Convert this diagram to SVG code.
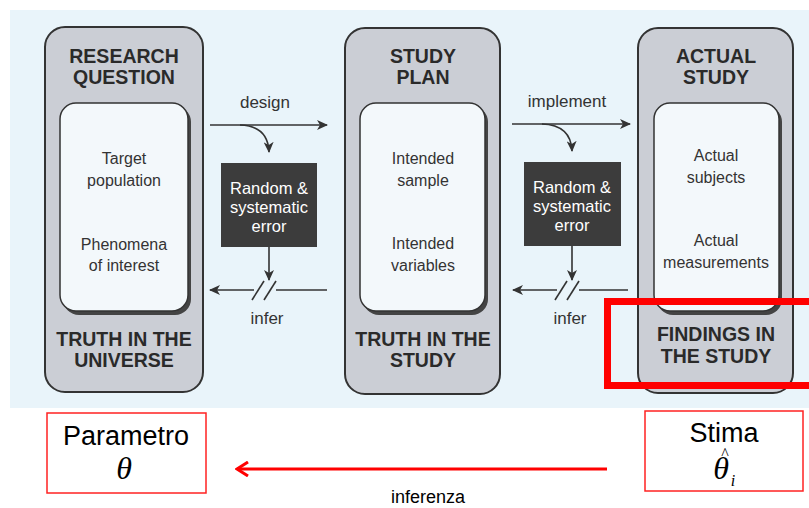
<svg xmlns="http://www.w3.org/2000/svg" width="809" height="508" viewBox="0 0 809 508">
<defs>
<marker id="ah" markerWidth="12" markerHeight="10" refX="10" refY="5" orient="auto" markerUnits="userSpaceOnUse">
<path d="M0,0 L11,5 L0,10 L3,5 Z" fill="#333"/>
</marker>
<marker id="rah" markerWidth="16" markerHeight="16" refX="14" refY="8" orient="auto" markerUnits="userSpaceOnUse">
<path d="M3,1 L14,8 L3,15" fill="none" stroke="#f00" stroke-width="3"/>
</marker>
<style>
.outer{fill:#cbced5;stroke:#333;stroke-width:2}
.shadow{fill:#444}
.inner{fill:#f3f8fb;stroke:#333;stroke-width:1.5}
.hd{font-family:"Liberation Sans",Arial,sans-serif;font-weight:bold;font-size:19.5px;fill:#2a2a2a;text-anchor:middle}
.it{font-family:"Liberation Sans",Arial,sans-serif;font-size:16px;fill:#333;text-anchor:middle}
.lb{font-family:"Liberation Sans",Arial,sans-serif;font-size:17px;fill:#333;text-anchor:middle}
.err{fill:#3c3c3c}
.et{font-family:"Liberation Sans",Arial,sans-serif;font-size:16.5px;fill:#fff;text-anchor:middle}
.ln{fill:none;stroke:#333;stroke-width:1.6}
.rb{fill:#fff;stroke:#f22;stroke-width:1.5}
.bt{font-family:"Liberation Sans",Arial,sans-serif;font-size:27px;fill:#000;text-anchor:middle}
.th{font-family:"Liberation Serif","Times New Roman",serif;font-style:italic;font-size:32px;fill:#000;text-anchor:middle}
</style>
</defs>
<rect x="0" y="0" width="809" height="508" fill="#fff"/>
<rect x="10" y="10" width="799" height="398" fill="#e9f4fa"/>

<g id="research-question">
<rect class="outer" x="45" y="27" width="158" height="365" rx="20"/>
<rect class="shadow" x="63" y="106" width="128" height="209" rx="16"/>
<rect class="inner" x="60" y="103" width="128" height="208" rx="16"/>
<text class="hd" x="124" y="63">RESEARCH</text>
<text class="hd" x="124" y="84">QUESTION</text>
<text class="it" x="124" y="164">Target</text>
<text class="it" x="124" y="186">population</text>
<text class="it" x="124" y="250">Phenomena</text>
<text class="it" x="124" y="271">of interest</text>
<text class="hd" x="124" y="346">TRUTH IN THE</text>
<text class="hd" x="124" y="367">UNIVERSE</text>
</g>

<g id="study-plan">
<rect class="outer" x="345" y="28" width="155" height="366" rx="20"/>
<rect class="shadow" x="363" y="106" width="125" height="209" rx="16"/>
<rect class="inner" x="360" y="103" width="125" height="208" rx="16"/>
<text class="hd" x="423" y="63">STUDY</text>
<text class="hd" x="423" y="84">PLAN</text>
<text class="it" x="423" y="164">Intended</text>
<text class="it" x="423" y="186">sample</text>
<text class="it" x="423" y="249">Intended</text>
<text class="it" x="423" y="271">variables</text>
<text class="hd" x="423" y="346">TRUTH IN THE</text>
<text class="hd" x="423" y="367">STUDY</text>
</g>

<g id="actual-study">
<rect class="outer" x="638" y="28" width="155" height="365" rx="20"/>
<rect class="shadow" x="657" y="106" width="125" height="209" rx="16"/>
<rect class="inner" x="654" y="103" width="125" height="208" rx="16"/>
<text class="hd" x="716" y="63">ACTUAL</text>
<text class="hd" x="716" y="84">STUDY</text>
<text class="it" x="716" y="161">Actual</text>
<text class="it" x="716" y="183">subjects</text>
<text class="it" x="716" y="246">Actual</text>
<text class="it" x="716" y="268">measurements</text>
<text class="hd" x="716" y="341">FINDINGS IN</text>
<text class="hd" x="716" y="363">THE STUDY</text>
</g>

<g id="error-1">
<rect class="err" x="221" y="163" width="96" height="84"/>
<text class="et" x="269" y="194">Random &amp;</text>
<text class="et" x="269" y="213">systematic</text>
<text class="et" x="269" y="232">error</text>
</g>

<g id="error-2">
<rect class="err" x="524" y="162" width="97" height="84"/>
<text class="et" x="572" y="193">Random &amp;</text>
<text class="et" x="572" y="212">systematic</text>
<text class="et" x="572" y="231">error</text>
</g>

<g id="parametro">
<rect class="rb" x="47" y="413" width="159" height="80"/>
<text class="bt" x="126" y="445">Parametro</text>
<text class="th" x="124" y="479">θ</text>
</g>

<g id="stima">
<rect class="rb" x="645" y="411" width="158" height="80"/>
<text class="bt" x="724" y="442">Stima</text>
<text class="th" x="721" y="479">θ<tspan x="725" y="459" font-size="16" font-style="normal">^</tspan><tspan x="733" y="486" font-size="16">i</tspan></text>
</g>

<g id="connectors">
<line class="ln" x1="210" y1="125" x2="327" y2="125" marker-end="url(#ah)"/>
<path class="ln" d="M240,125 Q268,126 269,152" marker-end="url(#ah)"/>
<line class="ln" x1="269" y1="247" x2="269" y2="280" marker-end="url(#ah)"/>
<line class="ln" x1="327" y1="290" x2="210" y2="290" marker-end="url(#ah)"/>
<rect x="254" y="283" width="22" height="14" fill="#e9f4fa"/>
<line class="ln" x1="252" y1="300" x2="264" y2="281"/>
<line class="ln" x1="264" y1="300" x2="276" y2="281"/>
<text class="lb" x="265" y="108">design</text>
<text class="lb" x="267" y="324">infer</text>

<line class="ln" x1="512" y1="124" x2="630" y2="124" marker-end="url(#ah)"/>
<path class="ln" d="M542,124 Q571,125 572,151" marker-end="url(#ah)"/>
<line class="ln" x1="572" y1="246" x2="572" y2="280" marker-end="url(#ah)"/>
<line class="ln" x1="628" y1="290" x2="513" y2="290" marker-end="url(#ah)"/>
<rect x="557" y="283" width="22" height="14" fill="#e9f4fa"/>
<line class="ln" x1="555" y1="300" x2="567" y2="281"/>
<line class="ln" x1="567" y1="300" x2="579" y2="281"/>
<text class="lb" x="567" y="107">implement</text>
<text class="lb" x="570" y="324">infer</text>

<line x1="607" y1="469" x2="237" y2="469" stroke="#f00" stroke-width="3" marker-end="url(#rah)"/>
<text x="428" y="503" font-family="Liberation Sans,Arial,sans-serif" font-size="18" text-anchor="middle" fill="#000">inferenza</text>
</g>

<rect x="607.5" y="301.5" width="210" height="84" fill="none" stroke="#f00" stroke-width="7"/>
</svg>
